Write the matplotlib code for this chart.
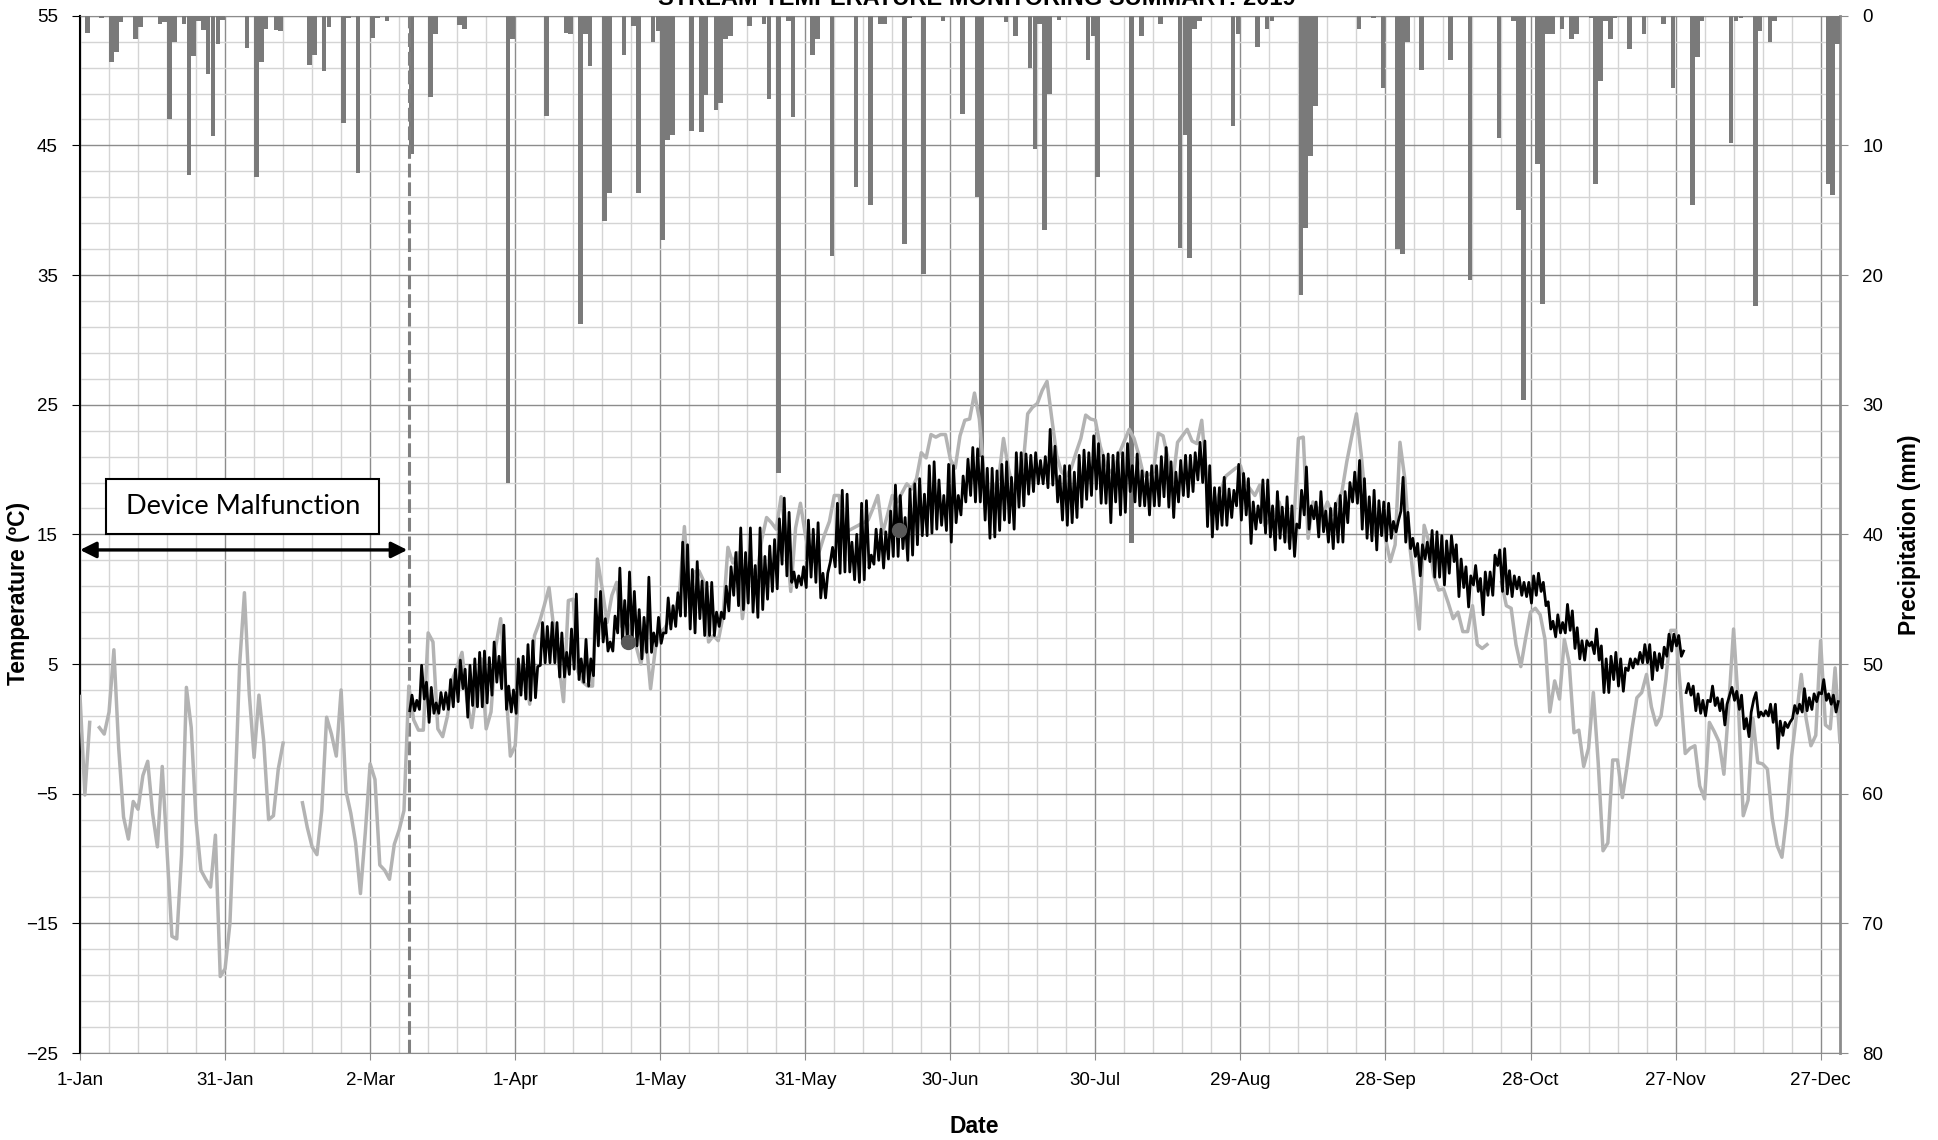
import numpy as np
import matplotlib
matplotlib.use('Agg')
import matplotlib.pyplot as plt
from matplotlib.patches import Rectangle

plt.rcParams['font.family'] = ['Liberation Sans', 'DejaVu Sans']

nan = np.nan

# day index 0 = 1-Jan (non-leap year)
tick_days = [0, 30, 60, 90, 120, 150, 180, 210, 240, 270, 300, 330, 360]
tick_labels = ['1-Jan', '31-Jan', '2-Mar', '1-Apr', '1-May', '31-May', '30-Jun',
               '30-Jul', '29-Aug', '28-Sep', '28-Oct', '27-Nov', '27-Dec']

# Daily air temperature (C), day 0..364
air_temp = [
    2.5, -5.1, 0.5, nan, 0.1, -0.4, 1.3, 6.1, -1.5, -6.8,
    -8.5, -5.6, -6.2, -3.6, -2.5, -6.5, -9.1, -2.9, -9.5, -16.0,
    -16.2, -9.7, 3.2, 0.1, -7.1, -10.9, -11.6, -12.2, -8.2, -19.1,
    -18.5, -15.0, -5.7, 4.9, 10.5, 2.7, -2.2, 2.6, -1.0, -7.0,
    -6.7, -3.1, -1.1, nan, nan, nan, -5.7, -7.6, -9.1, -9.7,
    -6.3, 0.9, -0.4, -2.1, 3.0, -4.8, -6.5, -8.8, -12.7, -8.0,
    -2.7, -3.9, -10.5, -10.9, -11.6, -8.9, -7.8, -6.3, 3.3, 0.7,
    -0.1, -0.1, 7.4, 6.7, 0.0, -0.6, 1.0, 3.8, 4.8, 5.9,
    2.3, 0.1, 3.0, 5.4, 0.0, 1.3, 6.4, 8.5, 3.6, -2.1,
    -1.3, 4.9, 4.6, 1.9, 7.2, 8.2, 9.5, 10.9, 7.7, 5.1,
    2.1, 9.9, 10.0, 4.4, 3.6, 3.3, 3.3, 13.1, 10.8, 8.2,
    10.3, 11.3, 7.9, 8.5, 7.2, 6.4, 5.0, 7.2, 3.1, 6.2,
    7.4, 7.8, 8.5, 9.0, 10.5, 15.6, 10.1, 12.1, 12.2, 11.4,
    6.7, 7.2, 6.8, 8.7, 14.0, 12.8, 13.6, 8.5, 11.5, 12.3,
    11.8, 14.6, 16.3, 15.9, 15.4, 17.9, 15.1, 10.6, 15.5, 17.4,
    15.0, 13.1, 12.9, 13.8, 15.0, 16.0, 18.0, 18.0, 14.9, 15.3,
    15.5, 15.7, 15.9, 16.1, 17.0, 18.0, 15.1, 16.5, 18.0, 17.5,
    18.2, 18.9, 18.5, 19.3, 21.3, 20.9, 22.7, 22.5, 22.7, 22.7,
    20.8, 20.1, 22.6, 23.8, 23.9, 25.9, 23.9, 19.5, 18.0, 18.6,
    19.3, 22.4, 20.1, 18.5, 19.3, 20.1, 24.3, 24.8, 25.1, 26.1,
    26.8, 23.9, 21.1, 19.8, 19.5, 20.1, 21.3, 22.4, 24.2, 23.9,
    23.8, 21.8, 20.6, 19.8, 20.1, 21.3, 22.2, 23.1, 22.4, 21.1,
    19.5, 19.6, 19.8, 22.8, 22.6, 20.9, 19.0, 22.1, 22.6, 23.1,
    22.2, 22.0, 23.8, 19.5, 16.5, 17.5, 18.5, 19.5, 19.8, 20.1,
    20.3, 19.0, 18.5, 18.0, 18.8, 15.7, 16.1, 16.5, 17.5, 16.0,
    14.4, 15.4, 22.4, 22.5, 14.7, 17.5, 17.0, 16.5, 17.5, 16.5,
    17.4, 18.3, 20.6, 22.5, 24.3, 21.1, 17.0, 15.9, 14.9, 16.5,
    14.7, 12.9, 14.2, 22.1, 19.3, 14.2, 11.0, 7.7, 15.7, 14.4,
    11.8, 10.7, 10.8, 9.7, 8.5, 9.0, 7.5, 7.5, 9.5, 6.5,
    6.2, 6.5, nan, nan, 11.3, 9.5, 9.3, 6.5, 4.8, 7.0,
    9.0, 9.3, 8.8, 6.9, 1.3, 3.7, 2.3, 6.9, 5.1, -0.3,
    -0.1, -2.9, -1.5, 2.8, -2.6, -9.4, -8.8, -2.4, -2.4, -5.3,
    -2.8, 0.0, 2.4, 2.8, 4.2, 1.7, 0.3, 1.0, 3.8, 7.6,
    7.6, 3.1, -1.9, -1.5, -1.3, -4.4, -5.4, 0.5, -0.2, -1.0,
    -3.5, 1.8, 7.7, 1.8, -6.7, -5.5, 0.8, -2.6, -2.7, -3.1,
    -6.9, -9.0, -9.9, -6.7, -2.1, 1.0, 4.2, 0.8, -1.3, -0.5,
    6.8, 0.3, 0.0, 4.7, -1.0,
]

# Stream temperature, daily high / low, first record from 10-Mar (day 68) to day 331
stream1_start = 68
stream1_hi = [
    2.6, 2.2, 4.9, 3.6, 3.2, 2.0, 2.8, 2.8, 3.8, 4.6,
    5.3, 4.6, 4.9, 5.4, 5.9, 6.0, 5.5, 6.7, 5.6, 8.0,
    3.3, 3.0, 5.4, 5.6, 6.5, 6.8, 4.8, 8.2, 7.9, 8.2,
    8.2, 7.4, 5.9, 7.7, 10.4, 5.4, 6.9, 5.4, 10.0, 10.6,
    8.5, 6.7, 8.7, 12.4, 9.9, 12.1, 10.6, 9.2, 8.6, 11.7,
    7.4, 8.6, 7.4, 10.1, 9.5, 10.5, 14.4, 14.2, 12.3, 12.9,
    11.4, 11.3, 11.3, 9.0, 9.0, 11.0, 12.5, 13.6, 15.5, 13.6,
    15.5, 12.6, 15.5, 13.3, 14.1, 14.6, 16.2, 17.8, 16.7, 12.1,
    11.8, 12.5, 16.1, 15.4, 15.9, 12.0, 12.0, 14.0, 17.4, 18.4,
    18.1, 14.4, 15.0, 17.4, 17.6, 13.4, 15.4, 15.4, 15.2, 16.8,
    18.8, 18.0, 16.3, 18.5, 18.9, 19.3, 18.1, 20.3, 20.6, 19.2,
    18.0, 20.4, 20.3, 18.0, 19.5, 20.8, 21.7, 21.6, 21.0, 20.1,
    20.1, 19.9, 20.4, 20.6, 19.4, 21.3, 21.3, 21.2, 21.1, 21.3,
    20.7, 21.0, 23.1, 21.8, 19.5, 20.3, 20.3, 19.8, 21.1, 21.5,
    21.3, 22.6, 22.0, 21.1, 21.2, 21.1, 21.3, 21.3, 22.0, 20.3,
    21.2, 19.9, 19.8, 20.3, 20.3, 21.0, 21.7, 20.6, 19.8, 20.7,
    21.1, 21.1, 21.3, 22.1, 22.2, 20.3, 18.6, 18.6, 19.4, 18.5,
    18.4, 20.4, 19.7, 19.3, 17.5, 17.2, 19.2, 19.2, 17.2, 18.3,
    17.1, 17.9, 17.2, 15.8, 18.4, 20.2, 17.2, 17.5, 18.3, 16.8,
    17.0, 17.4, 18.0, 18.3, 19.0, 19.8, 20.7, 19.3, 17.9, 18.4,
    17.6, 17.5, 17.4, 16.0, 16.0, 19.4, 16.7, 14.7, 14.3, 14.2,
    14.4, 15.3, 15.2, 14.9, 14.5, 14.9, 14.2, 13.1, 12.5, 11.8,
    12.6, 11.6, 12.1, 12.1, 13.4, 13.8, 13.9, 12.2, 11.8, 11.7,
    11.3, 11.3, 11.8, 12.0, 11.3, 9.8, 8.3, 8.8, 8.2, 9.6,
    9.1, 7.8, 6.8, 6.8, 6.7, 7.7, 6.4, 5.4, 5.6, 5.9,
    5.4, 4.7, 5.4, 5.4, 5.9, 6.5, 6.5, 5.9, 5.8, 6.3,
    7.3, 7.3, 7.2, 6.0,
]
stream1_lo = [
    1.4, 1.4, 1.5, 2.3, 0.5, 1.2, 1.2, 1.5, 1.5, 1.7,
    2.1, 3.1, 0.9, 1.8, 1.7, 1.7, 2.0, 2.6, 3.6, 3.1,
    1.5, 1.3, 1.2, 2.6, 2.3, 2.2, 2.4, 4.9, 5.1, 5.1,
    5.1, 4.0, 4.0, 4.2, 4.6, 3.8, 3.6, 3.3, 4.1, 6.4,
    6.7, 6.0, 6.0, 7.4, 6.7, 6.9, 6.9, 6.4, 5.4, 5.9,
    5.9, 6.4, 6.6, 7.4, 7.7, 7.9, 8.7, 8.7, 7.7, 7.4,
    8.5, 7.2, 7.2, 7.2, 7.9, 8.5, 9.1, 10.3, 9.5, 9.2,
    9.7, 9.0, 8.6, 9.2, 10.0, 10.6, 10.8, 12.7, 11.8, 11.3,
    10.9, 11.1, 10.9, 11.7, 11.3, 10.1, 10.1, 12.9, 12.5, 12.0,
    12.1, 12.1, 11.5, 11.3, 11.5, 12.4, 12.7, 13.0, 12.4, 13.1,
    13.3, 13.3, 13.9, 13.0, 13.4, 14.2, 14.9, 14.9, 15.1, 15.4,
    15.7, 15.3, 14.4, 15.9, 16.5, 17.5, 18.0, 17.5, 17.5, 16.1,
    14.7, 14.8, 15.3, 16.1, 15.9, 15.4, 17.1, 17.2, 18.1, 18.3,
    18.9, 18.9, 18.6, 18.8, 17.5, 16.1, 15.7, 15.9, 16.3, 17.1,
    17.7, 18.0, 18.5, 17.4, 17.4, 15.9, 17.5, 16.5, 16.7, 18.3,
    17.5, 17.2, 17.2, 16.5, 17.2, 17.2, 17.9, 17.1, 16.3, 17.5,
    18.0, 17.9, 18.3, 19.2, 19.0, 15.6, 14.8, 15.4, 15.7, 15.7,
    16.3, 17.2, 16.1, 16.5, 14.3, 15.4, 15.9, 15.1, 14.8, 13.8,
    14.7, 14.4, 13.9, 13.3, 15.5, 16.5, 15.4, 16.2, 14.8, 15.2,
    14.4, 13.9, 14.4, 14.4, 15.9, 17.5, 17.4, 15.4, 14.7, 14.5,
    13.8, 14.9, 14.5, 14.7, 15.2, 16.8, 14.4, 13.9, 13.3, 11.8,
    13.1, 12.9, 11.7, 11.7, 11.1, 12.0, 12.9, 10.2, 10.9, 9.4,
    11.1, 10.6, 8.8, 10.3, 10.3, 12.6, 10.6, 10.4, 10.2, 10.8,
    10.3, 10.2, 9.7, 10.3, 10.6, 9.5, 7.7, 7.1, 7.4, 7.4,
    7.6, 6.2, 5.4, 5.3, 6.4, 5.8, 5.3, 2.8, 2.8, 3.8,
    3.3, 2.9, 4.5, 4.7, 5.0, 5.1, 5.1, 3.8, 4.5, 4.7,
    5.6, 6.0, 6.4, 5.6,
]

# Second record after the short break at the end of November
stream2_start = 332
stream2_hi = [
    3.5, 3.3, 2.7, 2.2, 2.2, 3.3, 2.4, 2.3, 1.9, 3.2,
    2.9, 2.6, 0.8, 1.3, 2.8, 1.3, 1.4, 1.9, 1.9, 0.6,
    0.5, 0.5, 1.8, 1.9, 3.1, 2.4, 2.7, 2.8, 3.8, 2.7,
    2.6, 2.1,
]
stream2_lo = [
    2.8, 2.6, 1.4, 1.2, 1.0, 2.1, 1.8, 1.4, 0.3, 2.6,
    2.2, 1.5, 0.0, -0.6, 2.3, 0.9, 1.0, 1.0, 0.5, -1.5,
    -0.5, 0.1, 0.8, 1.2, 1.3, 1.4, 1.5, 2.1, 2.7, 2.2,
    1.9, 1.3,
]

# Spot-check measurements
check_day = [113.4, 169.4]
check_temp = [6.7, 15.3]

# Daily precipitation (mm), only the wet days
rain_day = [1, 4, 6, 7, 8, 11, 12, 16, 17, 18, 19, 21, 22, 23, 24, 25, 26, 27, 28, 29,
            34, 36, 37, 38, 40, 41, 47, 48, 50, 51, 54, 55, 57, 60, 61, 63, 68, 72, 73, 78,
            79, 88, 89, 96, 100, 101, 103, 104, 105, 108, 109, 112, 114, 115, 118, 119, 120, 121, 122, 126,
            128, 129, 131, 132, 133, 134, 138, 141, 142, 144, 146, 147, 151, 152, 155, 160, 163, 165, 166, 170,
            171, 174, 178, 182, 185, 186, 191, 193, 196, 197, 198, 199, 200, 202, 208, 209, 210, 217, 219, 223,
            227, 228, 229, 230, 231, 238, 239, 243, 245, 246, 252, 253, 254, 255, 264, 267, 269, 272, 273, 274,
            277, 283, 287, 293, 296, 297, 298, 301, 302, 303, 304, 306, 308, 309, 312, 313, 314, 315, 316, 317,
            320, 323, 327, 329, 333, 334, 335, 341, 342, 343, 346, 347, 349, 350, 361, 362, 363]
rain_mm = [1.3, 0.2, 3.6, 2.8, 0.5, 1.8, 0.9, 0.6, 0.5, 8.0, 2.0, 0.6, 12.3, 3.1, 0.4, 1.1, 4.5, 9.3, 2.2, 0.3,
           2.5, 12.4, 3.6, 1.0, 1.1, 1.2, 3.8, 3.0, 4.3, 0.9, 8.3, 0.2, 12.1, 1.7, 0.2, 0.4, 10.7, 6.3, 1.4, 0.7,
           1.0, 36.0, 1.8, 7.7, 1.3, 1.4, 23.8, 1.4, 3.9, 15.8, 13.7, 3.0, 0.8, 13.7, 2.0, 1.2, 17.3, 9.6, 9.2, 8.9,
           9.0, 6.1, 7.3, 6.7, 1.8, 1.6, 0.8, 0.6, 6.4, 35.3, 0.4, 7.8, 3.0, 1.8, 18.5, 13.2, 14.6, 0.6, 0.6, 17.6,
           0.2, 19.9, 0.4, 7.6, 14.0, 34.0, 0.5, 1.6, 4.0, 10.3, 0.6, 16.5, 6.0, 0.3, 3.4, 1.6, 12.4, 40.7, 1.6, 0.6,
           17.9, 9.2, 18.7, 1.0, 0.4, 8.5, 1.4, 2.4, 1.0, 0.4, 21.5, 16.4, 10.8, 7.0, 1.0, 0.2, 5.6, 18.0, 18.4, 2.0,
           4.2, 3.4, 20.4, 9.4, 0.4, 15.0, 29.6, 11.4, 22.2, 1.4, 1.4, 1.0, 1.8, 1.4, 0.2, 13.0, 5.0, 0.4, 1.8, 0.2,
           2.6, 1.4, 0.6, 5.6, 14.6, 3.2, 0.4, 9.8, 0.4, 0.2, 22.4, 1.2, 2.0, 0.4, 13.0, 13.8, 2.2]

malfunction_end = 68


def zigzag(start, hi, lo):
    # each day: overnight low, then afternoon high
    d = start + np.arange(len(hi))
    t = np.column_stack([d + 0.2, d + 0.65]).ravel()
    v = np.column_stack([lo, hi]).ravel()
    return t, v


t1, v1 = zigzag(stream1_start, stream1_hi, stream1_lo)
t2, v2 = zigzag(stream2_start, stream2_hi, stream2_lo)
stream_t = np.concatenate([t1, [t1[-1] + 0.3], t2])
stream_v = np.concatenate([v1, [nan], v2])

air_days = np.arange(len(air_temp))

fig = plt.figure(figsize=(19.38, 11.4), dpi=100)
ax = fig.add_axes([0.0413, 0.0763, 0.9081, 0.9099])   # precipitation, right axis
axt = ax.twinx()                                       # temperature, left axis

# ---- precipitation bars + grid (bottom layer)
ax.bar(np.array(rain_day) + 0.5, rain_mm, width=0.95, color='#7a7a7a', zorder=3)
ax.set_ylim(80, 0)
ax.set_xlim(0, 364)
ax.set_yticks(np.arange(0, 81, 10))
ax.set_yticks(np.arange(0, 81, 2), minor=True)
ax.set_xticks(tick_days)
ax.set_xticklabels(tick_labels)
ax.set_xticks(np.arange(0, 365, 6), minor=True)
ax.set_axisbelow(True)
ax.grid(which='minor', color='#d4d4d4', lw=1.0)
ax.grid(which='major', color='#8c8c8c', lw=1.0)
ax.yaxis.tick_right()
ax.yaxis.set_label_position('right')
ax.set_ylabel('Precipitation (mm)', fontsize=16.5, fontweight='bold', rotation=90)
ax.yaxis.set_label_coords(1.033, 0.5)
ax.tick_params(axis='y', which='major', direction='out', length=6, color='#8c8c8c',
               labelsize=13.5, pad=10)
ax.tick_params(axis='x', which='major', direction='out', length=5, color='#8c8c8c',
               labelsize=13.5, pad=9)
ax.tick_params(which='minor', length=0)
for side in ['top', 'bottom']:
    ax.spines[side].set_color('#8c8c8c')
ax.spines['right'].set_color('#8c8c8c')
ax.spines['right'].set_linewidth(2.0)
ax.spines['left'].set_color('black')
ax.spines['left'].set_linewidth(1.5)
ax.set_xlabel('Date', fontsize=16.5, fontweight='bold')
ax.xaxis.set_label_coords(0.508, -0.060)

# ---- temperature (top layer)
axt.set_ylim(-25, 55)
axt.set_yticks(np.arange(-25, 56, 10))
axt.yaxis.tick_left()
axt.yaxis.set_label_position('left')
axt.tick_params(axis='y', direction='out', length=6, color='black', labelsize=13.5, pad=10)
axt.set_ylabel('Temperature (ºC)', fontsize=16.5, fontweight='bold')
axt.yaxis.set_label_coords(-0.0284, 0.4435)
for side in ['top', 'bottom', 'right', 'left']:
    axt.spines[side].set_visible(False)

axt.plot(air_days, air_temp, color='#b3b3b3', lw=2.5, solid_joinstyle='round', zorder=3)
axt.plot(stream_t, stream_v, color='black', lw=2.0, solid_joinstyle='round', zorder=4)
axt.plot(check_day, check_temp, 'o', color='#595959', markersize=10, zorder=5)

# ---- device malfunction annotation
axt.axvline(malfunction_end, color='#808080', lw=2.2, dashes=(4.5, 1.6), zorder=2)
axt.annotate('', xy=(0, 13.8), xytext=(malfunction_end - 0.3, 13.8),
             arrowprops=dict(arrowstyle='<|-|>', color='black', lw=2.4,
                             mutation_scale=24, shrinkA=0, shrinkB=0), zorder=6)
axt.add_patch(Rectangle((5.4, 15.0), 56.5, 4.3, facecolor='white', edgecolor='black',
                        lw=1.5, zorder=6))
axt.text(33.65, 17.15, 'Device Malfunction', ha='center', va='center', fontsize=19.5,
         family=['Lato', 'DejaVu Sans'], zorder=7)

fig.text(0.504, 0.9956, 'STREAM TEMPERATURE MONITORING SUMMARY: 2019', ha='center',
         va='baseline', fontsize=17, fontweight='bold')

fig.savefig('out.png', dpi=100)
